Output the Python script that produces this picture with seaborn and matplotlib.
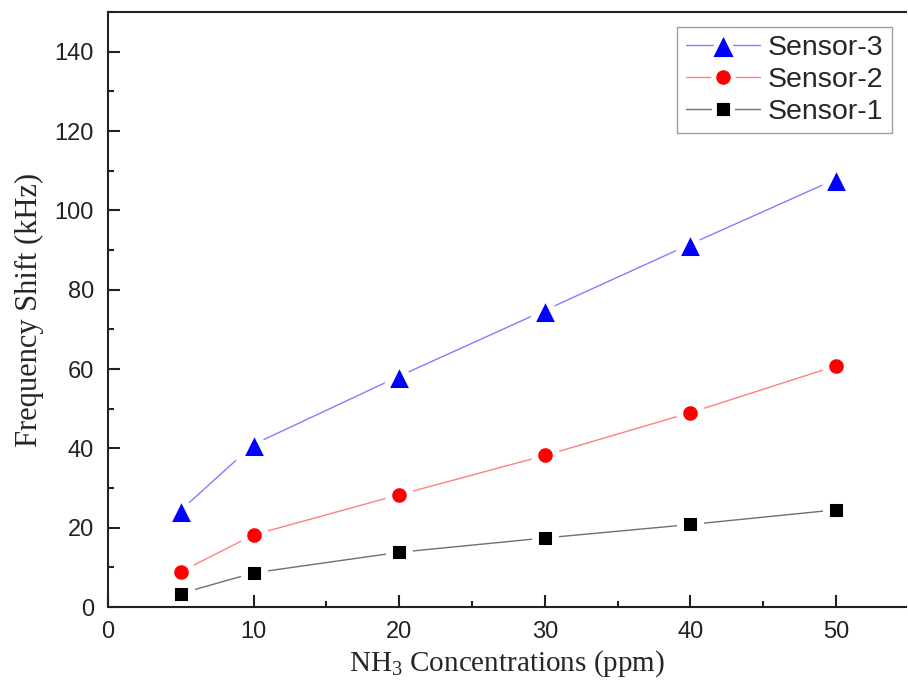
import matplotlib
matplotlib.use("Agg")
import matplotlib.pyplot as plt
import seaborn as sns
import pandas as pd
from matplotlib.ticker import MultipleLocator
from matplotlib.markers import MarkerStyle

concentration = [5, 10, 20, 30, 40, 50]
sensor3 = [24.4, 41.0, 58.2, 74.8, 91.5, 107.9]
sensor2 = [8.9, 18.2, 28.3, 38.2, 49.0, 60.8]
sensor1 = [3.4, 8.6, 13.8, 17.4, 20.8, 24.5]

sns.set_style("white")
plt.rcParams['font.family'] = ['Liberation Sans', 'DejaVu Sans']
plt.rcParams['xtick.labelsize'] = 17
plt.rcParams['ytick.labelsize'] = 17
plt.rcParams['mathtext.fontset'] = 'custom'
plt.rcParams['mathtext.rm'] = 'Liberation Serif'
plt.rcParams['mathtext.it'] = 'Liberation Serif:italic'

fig = plt.figure(figsize=(9.08, 6.91), dpi=100)
ax = fig.add_axes([108/908, 1-607/691, (906-108)/908, (607-12)/691])

series = [
    ("Sensor-3", sensor3, "^", "#0000ff", "#7f7fff", 21),
    ("Sensor-2", sensor2, "o", "#ff0000", "#ff8080", 15.5),
    ("Sensor-1", sensor1, "s", "#000000", "#707070", 14.2),
]
for name, vals, mk, mc, lc, ms in series:
    df = pd.DataFrame({"x": concentration, "y": vals})
    sns.lineplot(data=df, x="x", y="y", ax=ax, color=lc, linewidth=1.0,
                 marker=MarkerStyle(mk, joinstyle="round"), markersize=ms,
                 markerfacecolor=mc, markeredgecolor="white",
                 markeredgewidth=5.0, label=name)

ax.set_xlim(0, 54.8)
ax.set_ylim(0, 150)
ax.xaxis.set_major_locator(MultipleLocator(10))
ax.xaxis.set_minor_locator(MultipleLocator(5))
ax.yaxis.set_major_locator(MultipleLocator(20))
ax.yaxis.set_minor_locator(MultipleLocator(10))
ax.set_yticks([0, 20, 40, 60, 80, 100, 120, 140])
ax.tick_params(which="major", direction="in", length=8.5, width=1.5,
               pad=10, colors="#222222")
ax.tick_params(which="minor", direction="in", length=4.5, width=1.5,
               colors="#222222")
ax.tick_params(axis="x", which="both", bottom=True)
ax.tick_params(axis="y", which="both", left=True)
for lbl in ax.get_xticklabels() + ax.get_yticklabels():
    lbl.set_fontsize(17)

for s in ["left", "bottom", "top"]:
    ax.spines[s].set_linewidth(1.5)
    ax.spines[s].set_color("#222222")
ax.spines["right"].set_visible(False)

ax.set_xlabel(r"NH$_\mathrm{3}$ Concentrations (ppm)", family=["Liberation Serif"],
              fontsize=21, labelpad=4)
ax.set_ylabel("Frequency Shift (kHz)", family=["Liberation Serif"],
              fontsize=22, labelpad=8)

leg = ax.legend(loc="upper right", bbox_to_anchor=(0.99, 0.985), fontsize=20.5,
                frameon=True, fancybox=False, edgecolor="#888888",
                handlelength=2.6, borderpad=0.3, labelspacing=0.2,
                handletextpad=0.3, borderaxespad=0.2)
leg.get_frame().set_linewidth(1.0)
for h, (_, _, _, _, _, ms) in zip(leg.legend_handles, series):
    h.set_markeredgewidth(3.5)
    h.set_markersize(ms - 1.5)

fig.savefig("out.png", dpi=100)
